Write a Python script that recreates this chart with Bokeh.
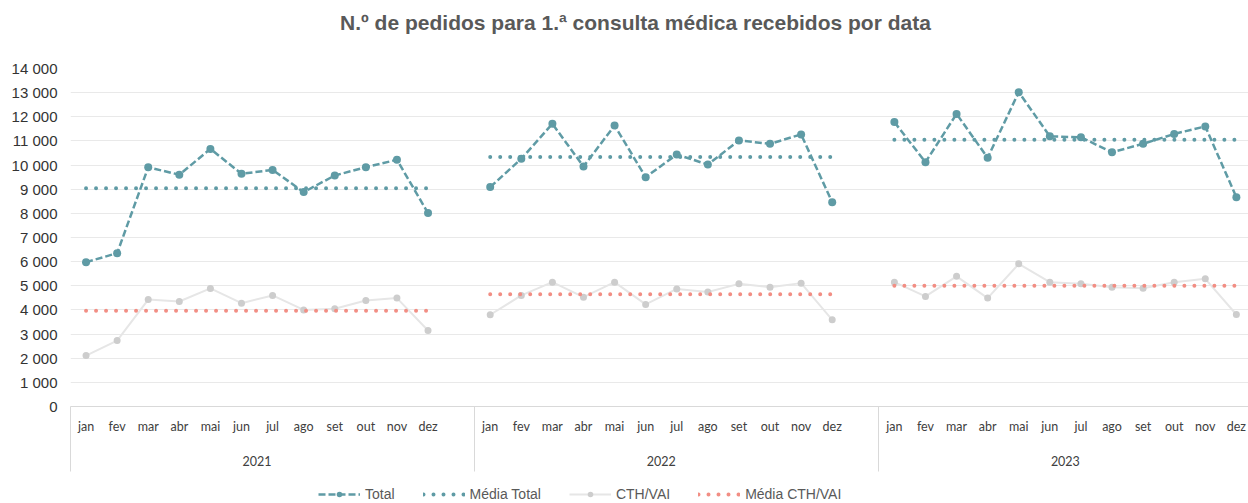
from bokeh.plotting import figure
from bokeh.layouts import column
from bokeh.models import (FixedTicker, LinearAxis, Legend, LegendItem, Range1d,
                          ColumnDataSource, Label)
from bokeh.embed import file_html
from bokeh.resources import INLINE

# ---------------- data ----------------
years = ["2021", "2022", "2023"]
months = ["jan", "fev", "mar", "abr", "mai", "jun", "jul", "ago", "set", "out", "nov", "dez"]
total_2021 = [5980, 6350, 9910, 9600, 10670, 9640, 9800, 8880, 9570, 9910, 10220, 8010]
total_2022 = [9090, 10260, 11710, 9940, 11640, 9500, 10440, 10020, 11020, 10880, 11270, 8460]
total_2023 = [11780, 10120, 12120, 10300, 13020, 11190, 11150, 10530, 10880, 11290, 11600, 8670]
cth_2021 = [2110, 2730, 4430, 4350, 4890, 4280, 4600, 4000, 4050, 4390, 4490, 3150]
cth_2022 = [3800, 4600, 5150, 4530, 5150, 4230, 4870, 4740, 5080, 4940, 5110, 3590]
cth_2023 = [5150, 4560, 5390, 4490, 5910, 5150, 5080, 4940, 4900, 5150, 5290, 3810]
media_total = [9040, 10330, 11050]
media_cth = [3970, 4650, 5000]
y_ticks = list(range(0, 14001, 1000))
title_text = "N.º de pedidos para 1.ª consulta médica recebidos por data"
legend_labels = ["Total", "Média Total", "CTH/VAI", "Média CTH/VAI"]

TEAL = "#5f9ba5"
SALMON = "#f28e84"
GRAY_LINE = "#e6e6e6"
GRAY_MARK = "#cdcdcd"
W = 1248
LEFT = 70  # frame left edge (shared by all stacked figures)


def bare(fig):
    fig.outline_line_color = None
    fig.background_fill_color = "white"
    fig.border_fill_color = "white"
    fig.xgrid.grid_line_color = None
    fig.ygrid.grid_line_color = None
    return fig


totals = [total_2021, total_2022, total_2023]
cths = [cth_2021, cth_2022, cth_2023]
SLOTS = 13  # 12 months + one empty slot between years

xs, tot, cth = [], [], []
for yi in range(len(years)):
    for m in range(12):
        xs.append(yi * SLOTS + m)
        tot.append(totals[yi][m])
        cth.append(cths[yi][m])
    if yi < len(years) - 1:
        xs.append(yi * SLOTS + 12)
        tot.append(float("nan"))
        cth.append(float("nan"))

src = ColumnDataSource(dict(x=xs, tot=tot, cth=cth))

mx, mt, mc = [], [], []
for yi in range(len(years)):
    mx.append([yi * SLOTS, yi * SLOTS + 11])
    mt.append([media_total[yi]] * 2)
    mc.append([media_cth[yi]] * 2)

# ---------------- header (title) ----------------
HEAD_H = 48
ph = bare(figure(width=W, height=HEAD_H, output_backend="svg", toolbar_location=None,
                 x_range=Range1d(0, 1), y_range=Range1d(0, 1),
                 x_axis_location=None, y_axis_location=None,
                 min_border=0, min_border_left=LEFT))
ph.add_layout(Label(x=635 - LEFT, y=HEAD_H - 22, x_units="screen", y_units="screen",
                    text=title_text, text_align="center", text_baseline="middle",
                    text_font="Liberation Sans", text_font_size="21px",
                    text_font_style="bold", text_color="#595959"))

# ---------------- main chart ----------------
LEG_H = 25
MAIN_H = 503 - HEAD_H - LEG_H
p = bare(figure(width=W, height=MAIN_H, output_backend="svg", toolbar_location=None,
                x_range=Range1d(-0.5, 37.39), y_range=Range1d(0, 14000),
                min_border_left=LEFT, min_border_right=0, min_border_top=68 - HEAD_H,
                min_border_bottom=MAIN_H - (406 - HEAD_H)))

p.ygrid.ticker = FixedTicker(ticks=y_ticks)
p.ygrid.grid_line_color = "#e9e9e9"
p.ygrid.grid_line_width = 1

ya = p.yaxis[0]
ya.ticker = FixedTicker(ticks=y_ticks)
ya.major_label_overrides = {v: f"{v:,}".replace(",", " ") for v in y_ticks}
ya.axis_line_color = None
ya.major_tick_line_color = None
ya.minor_tick_line_color = None
ya.major_tick_out = 0
ya.minor_tick_out = 0
ya.major_label_text_font = "Liberation Sans"
ya.major_label_text_font_size = "15px"
ya.major_label_text_color = "#333333"
ya.major_label_standoff = 13

# month axis
xa = p.xaxis[0]
month_ticks = [yi * SLOTS + m for yi in range(len(years)) for m in range(12)]
xa.ticker = FixedTicker(ticks=month_ticks)
xa.major_label_overrides = {yi * SLOTS + m: months[m]
                            for yi in range(len(years)) for m in range(12)}
xa.axis_line_color = "#d9d9d9"
xa.major_tick_line_color = None
xa.minor_tick_line_color = None
xa.major_tick_out = 0
xa.major_tick_in = 0
xa.minor_tick_out = 0
xa.minor_tick_in = 0
xa.major_label_text_font = "Lato"
xa.major_label_text_font_size = "12.5px"
xa.major_label_text_color = "#404040"
xa.major_label_standoff = 12

# year axis
year_centers = [yi * SLOTS + 5.5 for yi in range(len(years))]
xa2 = LinearAxis(ticker=FixedTicker(ticks=year_centers),
                 major_label_overrides={c: years[i] for i, c in enumerate(year_centers)})
xa2.axis_line_color = None
xa2.major_tick_line_color = None
xa2.minor_tick_line_color = None
xa2.major_tick_out = 0
xa2.minor_tick_out = 0
xa2.major_label_text_font = "Lato"
xa2.major_label_text_font_size = "12.5px"
xa2.major_label_text_color = "#404040"
xa2.major_label_standoff = 19
p.add_layout(xa2, "below")

# separator axis (group dividers drawn as inward ticks)
bounds = [yi * SLOTS - 0.5 for yi in range(len(years))]
xa3 = LinearAxis(ticker=FixedTicker(ticks=bounds),
                 major_label_overrides={b: " " for b in bounds})
xa3.axis_line_color = None
xa3.major_tick_line_color = "#d9d9d9"
xa3.major_tick_in = 62
xa3.major_tick_out = 3
xa3.minor_tick_line_color = None
xa3.minor_tick_out = 0
xa3.major_label_text_font_size = "1px"
xa3.major_label_standoff = 0
p.add_layout(xa3, "below")

p.line("x", "cth", source=src, line_color=GRAY_LINE, line_width=2)
p.scatter("x", "cth", source=src, size=7, fill_color=GRAY_MARK, line_color=None)
p.multi_line(mx, mc, line_color=SALMON, line_width=4, line_dash="0 10", line_cap="round")
p.line("x", "tot", source=src, line_color=TEAL, line_width=2.5, line_dash="7 3")
p.scatter("x", "tot", source=src, size=8, fill_color=TEAL, line_color=None)
p.multi_line(mx, mt, line_color=TEAL, line_width=4, line_dash="0 10", line_cap="round")

# ---------------- legend strip ----------------
pl = bare(figure(width=W, height=LEG_H, output_backend="svg", toolbar_location=None,
                 x_range=Range1d(0, 1), y_range=Range1d(0, 1),
                 x_axis_location=None, y_axis_location=None,
                 min_border=0, min_border_left=LEFT))
off = dict(x=[5, 6], y=[5, 6])  # swatch-only renderers, outside the visible range
l_tot = pl.line(line_color=TEAL, line_width=2.5, line_dash="7 3", **off)
s_tot = pl.scatter(size=8, fill_color=TEAL, line_color=None, **off)
l_mt = pl.line(line_color=TEAL, line_width=4, line_dash="0 10", line_cap="round", **off)
l_cth = pl.line(line_color=GRAY_LINE, line_width=2, **off)
s_cth = pl.scatter(size=7, fill_color=GRAY_MARK, line_color=None, **off)
l_mc = pl.line(line_color=SALMON, line_width=4, line_dash="0 10", line_cap="round", **off)

legend = Legend(items=[
    LegendItem(label=legend_labels[0], renderers=[l_tot, s_tot]),
    LegendItem(label=legend_labels[1], renderers=[l_mt]),
    LegendItem(label=legend_labels[2], renderers=[l_cth, s_cth]),
    LegendItem(label=legend_labels[3], renderers=[l_mc]),
], orientation="horizontal", location=(318 - LEFT, 1))
legend.label_text_font = "Liberation Sans"
legend.label_text_font_size = "14px"
legend.label_text_color = "#595959"
legend.glyph_width = 42
legend.glyph_height = 14
legend.label_standoff = 5
legend.spacing = 28
legend.padding = 0
legend.margin = 0
legend.border_line_color = None
legend.background_fill_alpha = 0
pl.add_layout(legend, "center")

layout = column(ph, p, pl, spacing=0)
open("out.html", "w").write(file_html(layout, INLINE))
